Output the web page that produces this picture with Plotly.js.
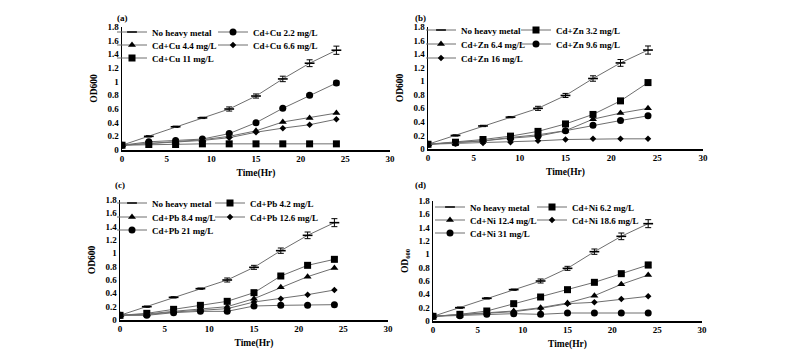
<!DOCTYPE html>
<html>
<head>
<meta charset="utf-8">
<script src="https://cdn.plot.ly/plotly-3.0.1.min.js"></script>
<style>html,body{margin:0;padding:0;background:#fff;}#chart{width:800px;height:359px;}</style>
</head>
<body>
<div id="chart"></div>
<script>
// ---- data ----
const time = [0, 3, 6, 9, 12, 15, 18, 21, 24];
const control = [0.07, 0.20, 0.34, 0.47, 0.60, 0.79, 1.04, 1.27, 1.46];
const controlErr = [0.01, 0.01, 0.01, 0.01, 0.03, 0.03, 0.04, 0.05, 0.06];

const cuNames = ["Cd+Cu 2.2 mg/L", "Cd+Cu 4.4 mg/L", "Cd+Cu 6.6 mg/L", "Cd+Cu 11 mg/L"];
const cu22 = [0.07, 0.12, 0.14, 0.16, 0.24, 0.40, 0.61, 0.80, 0.98];
const cu44 = [0.07, 0.10, 0.12, 0.15, 0.20, 0.28, 0.41, 0.47, 0.54];
const cu66 = [0.07, 0.09, 0.11, 0.14, 0.18, 0.26, 0.32, 0.37, 0.45];
const cu11 = [0.07, 0.08, 0.08, 0.09, 0.09, 0.09, 0.09, 0.09, 0.09];
const cu22Err = [0, 0, 0, 0, 0.01, 0.01, 0.01, 0.02, 0.03];

const znNames = ["Cd+Zn 3.2 mg/L", "Cd+Zn 6.4 mg/L", "Cd+Zn 9.6 mg/L", "Cd+Zn 16 mg/L"];
const zn32 = [0.07, 0.10, 0.14, 0.19, 0.26, 0.37, 0.51, 0.71, 0.98];
const zn64 = [0.07, 0.09, 0.12, 0.17, 0.21, 0.27, 0.44, 0.53, 0.60];
const zn96 = [0.07, 0.09, 0.12, 0.16, 0.19, 0.27, 0.35, 0.42, 0.49];
const zn16 = [0.07, 0.08, 0.09, 0.10, 0.12, 0.14, 0.15, 0.15, 0.15];
const zn32Err = [0, 0, 0, 0, 0.01, 0.01, 0.01, 0.01, 0.03];

const pbNames = ["Cd+Pb 4.2 mg/L", "Cd+Pb 8.4 mg/L", "Cd+Pb 12.6 mg/L", "Cd+Pb 21 mg/L"];
const pb42 = [0.07, 0.10, 0.16, 0.22, 0.28, 0.41, 0.66, 0.82, 0.91];
const pb84 = [0.07, 0.09, 0.13, 0.17, 0.20, 0.32, 0.49, 0.65, 0.78];
const pb126 = [0.07, 0.08, 0.12, 0.15, 0.17, 0.27, 0.32, 0.38, 0.45];
const pb21 = [0.07, 0.07, 0.11, 0.13, 0.13, 0.21, 0.22, 0.22, 0.23];
const pb42Err = [0, 0, 0, 0, 0.01, 0.01, 0.02, 0.02, 0.03];

const niNames = ["Cd+Ni 6.2 mg/L", "Cd+Ni 12.4 mg/L", "Cd+Ni 18.6 mg/L", "Cd+Ni 31 mg/L"];
const ni62 = [0.07, 0.10, 0.15, 0.26, 0.36, 0.47, 0.58, 0.71, 0.84];
const ni124 = [0.07, 0.10, 0.13, 0.15, 0.20, 0.27, 0.38, 0.55, 0.69];
const ni186 = [0.07, 0.09, 0.12, 0.14, 0.19, 0.26, 0.28, 0.33, 0.37];
const ni31 = [0.07, 0.08, 0.10, 0.11, 0.10, 0.12, 0.12, 0.12, 0.12];
const ni62Err = [0, 0, 0, 0, 0.01, 0.01, 0.01, 0.02, 0.04];

const panelLabels = ["(a)", "(b)", "(c)", "(d)"];
const controlName = "No heavy metal";

// ---- styling ----
const FONT = "Liberation Serif";
const lineCol = "#6e6e6e";
const sym = {
  dash: {symbol: "line-ew-open", size: 7, color: "#000", line: {width: 1.6, color: "#000"}},
  circle: {symbol: "circle", size: 7, color: "#000"},
  square: {symbol: "square", size: 7, color: "#000"},
  triangle: {symbol: "triangle-up", size: 7, color: "#000"},
  diamond: {symbol: "diamond", size: 5, color: "#000"}
};

const W = 800, H = 359;
const px = v => v / W;
const py = v => 1 - v / H;

// legend slot positions per panel: text x of the two columns, centre y of the three rows
// order: control(row1 col1), s2(row1 col2), s3(row2 col1), s4(row2 col2), s5(row3 col1)
const legendSlots = {
  1: {c1: 152, c2: 253, rows: [27, 40, 53]},
  2: {c1: 461, c2: 556, rows: [25, 39, 53]},
  3: {c1: 152, c2: 250, rows: [198, 212, 225]},
  4: {c1: 470, c2: 572, rows: [202, 215, 228]}
};
const slotOrder = [["c1", 0], ["c2", 0], ["c1", 1], ["c2", 1], ["c1", 2]];

const traces = [];
const legends = {};
let legCount = 0;
function add(panel, idx, name, y, marker, err) {
  const n = panel === 1 ? "" : String(panel);
  legCount += 1;
  const legId = legCount === 1 ? "legend" : "legend" + legCount;
  const s = legendSlots[panel];
  const [col, row] = slotOrder[idx];
  legends[legId] = {
    x: px(s[col] - 40), y: py(s.rows[row] - 9.5), xanchor: "left", yanchor: "top",
    orientation: "v", bgcolor: "rgba(0,0,0,0)", borderwidth: 0,
    font: {family: FONT, size: 9, color: "#000", weight: "bold"}
  };
  const t = {
    x: time, y: y, name: name, type: "scatter", mode: "lines+markers",
    xaxis: "x" + n, yaxis: "y" + n, legend: legId,
    line: {color: lineCol, width: 1},
    marker: marker, showlegend: true
  };
  if (err) t.error_y = {type: "data", array: err, visible: true, color: "#000", thickness: 1, width: 3};
  traces.push(t);
}

add(1, 0, controlName, control, sym.dash, controlErr);
add(1, 1, cuNames[0], cu22, sym.circle, cu22Err);
add(1, 2, cuNames[1], cu44, sym.triangle);
add(1, 3, cuNames[2], cu66, sym.diamond);
add(1, 4, cuNames[3], cu11, sym.square);

add(2, 0, controlName, control, sym.dash, controlErr);
add(2, 1, znNames[0], zn32, sym.square, zn32Err);
add(2, 2, znNames[1], zn64, sym.triangle);
add(2, 3, znNames[2], zn96, sym.circle);
add(2, 4, znNames[3], zn16, sym.diamond);

add(3, 0, controlName, control, sym.dash, controlErr);
add(3, 1, pbNames[0], pb42, sym.square, pb42Err);
add(3, 2, pbNames[1], pb84, sym.triangle);
add(3, 3, pbNames[2], pb126, sym.diamond);
add(3, 4, pbNames[3], pb21, sym.circle);

add(4, 0, controlName, control, sym.dash, controlErr);
add(4, 1, niNames[0], ni62, sym.square, ni62Err);
add(4, 2, niNames[1], ni124, sym.triangle);
add(4, 3, niNames[2], ni186, sym.diamond);
add(4, 4, niNames[3], ni31, sym.circle);

const tickFont = {family: FONT, size: 9, color: "#000", weight: "bold"};
function xax(l, r, anchor) {
  return {
    domain: [px(l), px(r)], range: [0, 30], dtick: 5, tick0: 0, anchor: anchor,
    showgrid: false, zeroline: false, showline: true, linecolor: "#000", linewidth: 1.5,
    ticks: "", tickfont: tickFont, fixedrange: true, automargin: false,
    title: {text: "Time(Hr)", font: {family: FONT, size: 9.5, color: "#000", weight: "bold"}, standoff: 6}
  };
}
function yax(top, bot, anchor, title) {
  return {
    domain: [py(bot), py(top)], range: [0, 1.8], dtick: 0.2, tick0: 0, anchor: anchor,
    showgrid: false, zeroline: false, showline: true, linecolor: "#000", linewidth: 1.5,
    ticks: "", tickfont: tickFont, fixedrange: true, automargin: false,
    title: {text: title, font: {family: FONT, size: 9.5, color: "#000", weight: "bold"}, standoff: 8}
  };
}

const layout = Object.assign({
  width: W, height: H,
  margin: {l: 0, r: 0, t: 0, b: 0, autoexpand: false},
  paper_bgcolor: "#fff", plot_bgcolor: "#fff",
  showlegend: true,
  xaxis: xax(122, 390, "y"), yaxis: yax(27, 150, "x", "OD600"),
  xaxis2: xax(428, 703, "y2"), yaxis2: yax(27, 149, "x2", "OD600"),
  xaxis3: xax(120, 388, "y3"), yaxis3: yax(200, 320, "x3", "OD600"),
  xaxis4: xax(433, 702, "y4"), yaxis4: yax(201, 321, "x4", "OD<sub>600</sub>"),
  annotations: [
    {text: panelLabels[0], x: px(115), y: py(11)},
    {text: panelLabels[1], x: px(420), y: py(11)},
    {text: panelLabels[2], x: px(113), y: py(185)},
    {text: panelLabels[3], x: px(420), y: py(185)}
  ].map(a => Object.assign(a, {xref: "paper", yref: "paper", showarrow: false,
    font: {family: FONT, size: 9, color: "#000", weight: "bold"}})),
  font: {family: FONT}
}, legends);

Plotly.newPlot("chart", traces, layout, {staticPlot: true, displayModeBar: false});
</script>
</body>
</html>
